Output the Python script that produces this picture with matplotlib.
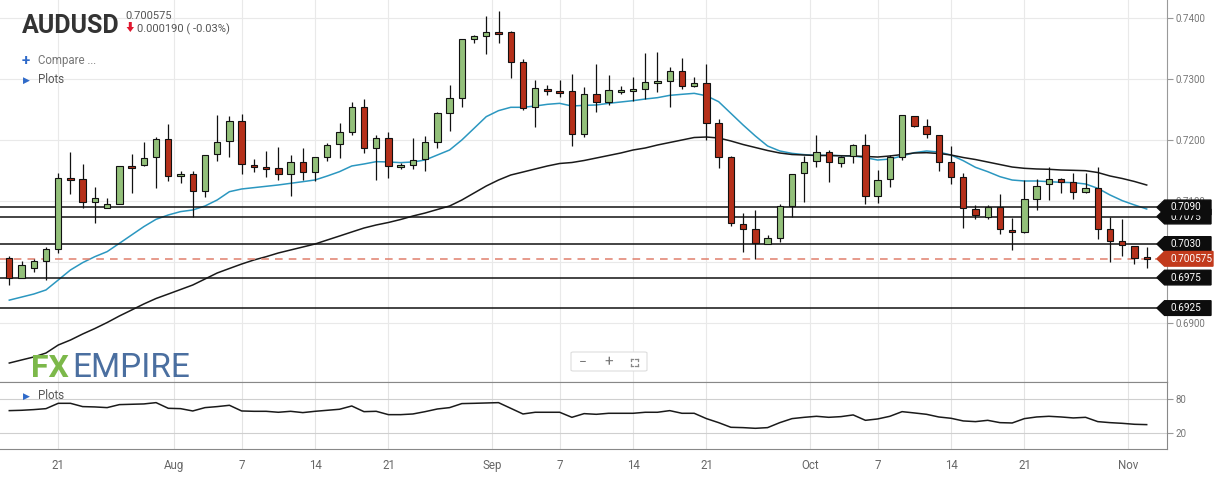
import numpy as np
import pandas as pd
import matplotlib
matplotlib.use("Agg")
import matplotlib.pyplot as plt
from matplotlib.patches import Polygon, FancyBboxPatch
from matplotlib.lines import Line2D
from matplotlib.transforms import blended_transform_factory

plt.rcParams['font.family'] = ['Roboto', 'DejaVu Sans']

# sessions on the chart: Sunday bars are included, Saturdays are not
days = pd.date_range("2020-07-16", "2020-11-02")
days = days[days.dayofweek != 5]

opens = [0.70066, 0.69749, 0.69902, 0.70027, 0.70213, 0.71382, 0.71361, 0.70984, 0.70891, 0.70962,
         0.71574, 0.71590, 0.71727, 0.72016, 0.71410, 0.71443, 0.71169, 0.71776, 0.71983, 0.72311,
         0.71590, 0.71557, 0.71541, 0.71448, 0.71639, 0.71475, 0.71721, 0.71934, 0.72142, 0.72541,
         0.71869, 0.72033, 0.71557, 0.71590, 0.71688, 0.71978, 0.72453, 0.72699, 0.73655, 0.73704,
         0.73770, 0.73770, 0.73278, 0.72541, 0.72836, 0.72808, 0.72808, 0.72098, 0.72754, 0.72623,
         0.72787, 0.72803, 0.72836, 0.72934, 0.72967, 0.73136, 0.72896, 0.72934, 0.72278, 0.71721,
         0.70623, 0.70541, 0.70300, 0.70393, 0.70929, 0.71459, 0.71661, 0.71803, 0.71622, 0.71743,
         0.71923, 0.71093, 0.71360, 0.71732, 0.72398, 0.72240, 0.72087, 0.71639, 0.71404, 0.70874,
         0.70748, 0.70912, 0.70524, 0.70491, 0.71038, 0.71278, 0.71360, 0.71311, 0.71158, 0.71213,
         0.70541, 0.70355, 0.70267, 0.70090]
highs = [0.70104, 0.70022, 0.70049, 0.70257, 0.71459, 0.71814, 0.71606, 0.71240, 0.71060, 0.71585,
         0.71776, 0.71967, 0.72049, 0.72262, 0.71497, 0.71497, 0.71760, 0.72415, 0.72399, 0.72432,
         0.71688, 0.71830, 0.71885, 0.71759, 0.71869, 0.71725, 0.71951, 0.72279, 0.72634, 0.72680,
         0.72087, 0.72142, 0.71623, 0.72032, 0.72071, 0.72470, 0.72907, 0.73660, 0.73726, 0.74038,
         0.74125, 0.73797, 0.73327, 0.72989, 0.72907, 0.72989, 0.73087, 0.72868, 0.73251, 0.73071,
         0.72890, 0.73032, 0.73437, 0.73442, 0.73207, 0.73344, 0.73032, 0.73251, 0.72344, 0.71743,
         0.70803, 0.70858, 0.70442, 0.70956, 0.71450, 0.71743, 0.72087, 0.71841, 0.71743, 0.71939,
         0.72098, 0.71513, 0.71759, 0.72420, 0.72405, 0.72344, 0.72090, 0.71907, 0.71469, 0.70940,
         0.70940, 0.71120, 0.70732, 0.71349, 0.71366, 0.71557, 0.71388, 0.71459, 0.71459, 0.71557,
         0.70748, 0.70705, 0.70270, 0.70246]
lows = [0.69628, 0.69738, 0.69847, 0.69710, 0.70148, 0.71115, 0.70896, 0.70639, 0.70885, 0.70955,
        0.71131, 0.71585, 0.71213, 0.71333, 0.71300, 0.70749, 0.71076, 0.71661, 0.71732, 0.71448,
        0.71486, 0.71404, 0.71350, 0.71087, 0.71350, 0.71333, 0.71661, 0.71705, 0.72087, 0.71798,
        0.71350, 0.71388, 0.71535, 0.71524, 0.71502, 0.71868, 0.72158, 0.72552, 0.73590, 0.73409,
        0.73601, 0.73016, 0.72497, 0.72224, 0.72743, 0.72715, 0.71912, 0.72060, 0.72470, 0.72579,
        0.72759, 0.72650, 0.72672, 0.72797, 0.72541, 0.72836, 0.72868, 0.72005, 0.71541, 0.70595,
        0.70164, 0.70054, 0.70295, 0.70328, 0.70748, 0.70994, 0.71557, 0.71311, 0.71568, 0.71622,
        0.70956, 0.70978, 0.71229, 0.71677, 0.72213, 0.72032, 0.71502, 0.71278, 0.70557, 0.70705,
        0.70705, 0.70464, 0.70202, 0.70485, 0.70858, 0.71021, 0.71142, 0.71032, 0.71142, 0.70377,
        0.70011, 0.70109, 0.69972, 0.69901]
closes = [0.69749, 0.69951, 0.70016, 0.70213, 0.71377, 0.71344, 0.70984, 0.71049, 0.70951, 0.71574,
          0.71541, 0.71705, 0.72016, 0.71421, 0.71443, 0.71169, 0.71754, 0.71967, 0.72311, 0.71606,
          0.71557, 0.71525, 0.71448, 0.71639, 0.71475, 0.71721, 0.71923, 0.72131, 0.72541, 0.71869,
          0.72033, 0.71585, 0.71595, 0.71683, 0.71967, 0.72442, 0.72688, 0.73655, 0.73704, 0.73770,
          0.73737, 0.73278, 0.72524, 0.72852, 0.72803, 0.72770, 0.72098, 0.72754, 0.72623, 0.72825,
          0.72825, 0.72841, 0.72950, 0.72972, 0.73136, 0.72896, 0.72934, 0.72289, 0.71721, 0.70639,
          0.70541, 0.70311, 0.70393, 0.70923, 0.71442, 0.71639, 0.71803, 0.71639, 0.71721, 0.71923,
          0.71093, 0.71349, 0.71732, 0.72415, 0.72240, 0.72098, 0.71639, 0.71404, 0.70885, 0.70770,
          0.70912, 0.70541, 0.70491, 0.71038, 0.71256, 0.71366, 0.71322, 0.71158, 0.71213, 0.70541,
          0.70355, 0.70284, 0.70065, 0.700575]

# short (blue) and long (black) moving averages as drawn
ma_fast = [0.69380, 0.69430, 0.69480, 0.69547, 0.69710, 0.69874, 0.69995, 0.70093, 0.70175, 0.70311,
           0.70448, 0.70585, 0.70705, 0.70776, 0.70831, 0.70858, 0.70923, 0.71022, 0.71158, 0.71202,
           0.71224, 0.71246, 0.71268, 0.71295, 0.71322, 0.71350, 0.71415, 0.71486, 0.71579, 0.71612,
           0.71650, 0.71645, 0.71634, 0.71645, 0.71677, 0.71759, 0.71841, 0.72005, 0.72196, 0.72388,
           0.72486, 0.72541, 0.72541, 0.72562, 0.72590, 0.72606, 0.72562, 0.72573, 0.72579, 0.72606,
           0.72628, 0.72650, 0.72677, 0.72699, 0.72737, 0.72754, 0.72770, 0.72730, 0.72633, 0.72442,
           0.72251, 0.72071, 0.71907, 0.71825, 0.71786, 0.71765, 0.71754, 0.71754, 0.71748, 0.71743,
           0.71715, 0.71677, 0.71693, 0.71743, 0.71797, 0.71825, 0.71808, 0.71759, 0.71666, 0.71557,
           0.71486, 0.71404, 0.71349, 0.71333, 0.71333, 0.71322, 0.71311, 0.71306, 0.71284, 0.71213,
           0.71104, 0.71011, 0.70940, 0.70874]
ma_slow = [0.68349, 0.68399, 0.68448, 0.68513, 0.68644, 0.68726, 0.68825, 0.68915, 0.69013, 0.69120,
           0.69218, 0.69317, 0.69407, 0.69480, 0.69554, 0.69628, 0.69726, 0.69825, 0.69899, 0.69972,
           0.70038, 0.70092, 0.70153, 0.70202, 0.70251, 0.70300, 0.70366, 0.70431, 0.70497, 0.70562,
           0.70612, 0.70653, 0.70702, 0.70759, 0.70808, 0.70866, 0.70923, 0.71021, 0.71136, 0.71251,
           0.71349, 0.71431, 0.71480, 0.71530, 0.71579, 0.71620, 0.71636, 0.71669, 0.71710, 0.71751,
           0.71792, 0.71841, 0.71874, 0.71923, 0.71964, 0.72005, 0.72046, 0.72054, 0.72038, 0.71989,
           0.71931, 0.71882, 0.71833, 0.71792, 0.71767, 0.71759, 0.71751, 0.71751, 0.71746, 0.71743,
           0.71735, 0.71726, 0.71743, 0.71767, 0.71792, 0.71797, 0.71784, 0.71759, 0.71718, 0.71685,
           0.71644, 0.71603, 0.71562, 0.71541, 0.71530, 0.71525, 0.71513, 0.71508, 0.71502, 0.71472,
           0.71415, 0.71374, 0.71325, 0.71267]

# lower "Plots" pane oscillator
osc = [60.0, 60.6, 61.8, 63.5, 72.9, 72.9, 67.1, 66.5, 65.3, 70.6,
       71.2, 71.8, 74.1, 64.1, 63.5, 59.4, 65.3, 67.1, 69.4, 59.4,
       58.8, 58.8, 57.1, 58.8, 56.5, 58.8, 60.6, 62.4, 68.2, 58.2,
       58.8, 52.9, 52.9, 54.1, 58.2, 62.9, 65.3, 72.4, 72.9, 73.5,
       74.1, 64.1, 54.1, 57.1, 57.1, 57.1, 48.2, 54.7, 53.5, 55.3,
       55.3, 55.3, 57.1, 57.1, 60.0, 55.3, 55.3, 45.9, 38.8, 30.6,
       30.0, 28.8, 30.0, 38.8, 45.9, 48.2, 50.0, 48.2, 49.4, 52.4,
       42.9, 45.3, 50.0, 58.2, 55.9, 53.5, 48.8, 46.5, 41.8, 40.6,
       42.9, 38.8, 38.2, 45.9, 48.8, 50.0, 48.8, 47.1, 48.2, 40.6,
       38.8, 37.6, 35.9, 35.3]

levels = [0.6925, 0.6975, 0.7030, 0.7075, 0.7090]
last_price = 0.700575

W, H = 1218, 479
fig = plt.figure(figsize=(W / 100, H / 100), dpi=100)
ax = fig.add_axes([0, 1 - 382 / H, 1167 / W, 382 / H])
ax2 = fig.add_axes([0, 1 - 449 / H, 1167 / W, 67 / H], sharex=ax)

x = np.arange(len(days))
o = np.array(opens)
c = np.array(closes)
up = c >= o
body_col = np.where(up, '#93c07a', '#b5301a')

# candles
ax.vlines(x, lows, highs, color='#111111', lw=0.9, zorder=3)
ax.bar(x, np.maximum(np.abs(c - o), 0.00005), bottom=np.minimum(o, c), width=0.52,
       color=body_col, edgecolor='#111111', linewidth=0.8, zorder=4)

ax.plot(x, ma_fast, color='#2b97c0', lw=1.1, zorder=2)
ax.plot(x, ma_slow, color='#1a1a1a', lw=1.1, zorder=2)

for lv in levels:
    ax.axhline(lv, color='#111111', lw=1.1, zorder=2)
ax.axhline(last_price, color='#e07f6c', lw=1.1, ls=(0, (5, 4)), zorder=2)

# x ticks: day numbers on bars, month names between months
tick_pos, tick_lab = [], []
for i, d in enumerate(days):
    if i > 0 and d.month != days[i - 1].month:
        tick_pos.append(i - 0.5)
        tick_lab.append(d.strftime('%b'))
    elif d.day in (7, 14, 21):
        tick_pos.append(i)
        tick_lab.append(str(d.day))


def price_fmt(v, p):
    # the 0.7000 label sits fully behind the last-price tag
    return "" if abs(v - 0.70) < 1e-6 else f"{v:.4f}"


ax.set_xlim(-0.76, 94.66)
ax.set_ylim(0.68038, 0.74300)
ax.set_xticks(tick_pos)
ax.set_yticks(np.arange(0.69, 0.7401, 0.01))
ax.yaxis.tick_right()
ax.yaxis.set_major_formatter(plt.FuncFormatter(price_fmt))
ax.tick_params(axis='y', colors='#999999', labelcolor='#777777', labelsize=7, length=4, pad=2)
ax.tick_params(axis='x', length=0, labelbottom=False)
ax.grid(True, color='#e9e9e9', lw=0.8)
ax.set_axisbelow(True)
for s in ['top', 'left']:
    ax.spines[s].set_visible(False)
ax.spines['right'].set_color('#999999')
ax.spines['bottom'].set_color('#888888')

# price tags on the right axis
tr = blended_transform_factory(ax.transAxes, ax.transData)


def tag(y, text, color, w=0.0463, z=6):
    h = 0.00120
    x0, tip = 0.9914, 0.0065
    pts = [(x0, y), (x0 + tip, y + h), (x0 + w, y + h), (x0 + w, y - h), (x0 + tip, y - h)]
    ax.add_patch(Polygon(pts, closed=True, transform=tr, fc=color, ec=color,
                         clip_on=False, zorder=z))
    ax.text(x0 + tip + 0.0055, y, text, transform=tr, color='white', fontsize=7.2,
            va='center', ha='left', clip_on=False, zorder=z + 1)


for k, lv in enumerate(levels):
    tag(lv, f"{lv:.4f}", '#0d0d0d', z=6 + 2 * k)
tag(last_price, f"{last_price:.6f}", '#c23a1c', w=0.0480, z=20)

# lower pane
ax2.plot(x, osc, color='#1a1a1a', lw=1.1)
ax2.set_ylim(-7.7, 110.5)
ax2.set_yticks([20, 80])
ax2.yaxis.tick_right()
ax2.tick_params(axis='y', colors='#999999', labelcolor='#777777', labelsize=7, length=4, pad=2)
ax2.tick_params(axis='x', length=0, labelsize=8.3, labelcolor='#666666', pad=7)
ax2.set_xticks(tick_pos)
ax2.set_xticklabels(tick_lab)
ax2.grid(True, axis='x', color='#e3e3e3', lw=0.8)
ax2.grid(True, axis='y', color='#cfcfcf', lw=0.8)
ax2.set_axisbelow(True)
ax2.spines['left'].set_visible(False)
for s in ['top', 'bottom', 'right']:
    ax2.spines[s].set_color('#888888')


def fx(px):
    return px / W


def fy(py):
    return 1 - py / H


# header
fig.text(fx(22), fy(33), "AUDUSD", fontsize=18, fontweight='bold', color='#333333')
fig.text(fx(125), fy(19), "0.700575", fontsize=8, color='#555555')
fig.text(fx(137), fy(32), "0.000190 ( -0.03%)", fontsize=8, color='#555555')
arrow = [(128.8, 22), (131.8, 22), (131.8, 27), (134, 27), (130.3, 32), (126.6, 27), (128.8, 27)]
fig.add_artist(Polygon([(fx(a), fy(b)) for a, b in arrow], closed=True,
                       transform=fig.transFigure, fc='#e0182f', ec='none'))
fig.text(fx(22), fy(65), "+", fontsize=11, fontweight='bold', color='#2f6ac9')
fig.text(fx(38), fy(64), "Compare ...", fontsize=8.3, color='#777777')
fig.text(fx(23), fy(83), "\u25B6", fontsize=6.5, color='#2f6ac9')
fig.text(fx(38), fy(83), "Plots", fontsize=8.3, color='#555555')
fig.text(fx(23), fy(399), "\u25B6", fontsize=6.5, color='#2f6ac9')
fig.text(fx(38), fy(399), "Plots", fontsize=8.3, color='#555555')

# watermark
fig.text(fx(31), fy(377), "FX", fontsize=23, color='#7cb84a', fontweight='bold')
fig.text(fx(72), fy(377), "EMPIRE", fontsize=24, color='#4b6fa0')

# zoom controls
fig.add_artist(FancyBboxPatch((fx(571), fy(371)), fx(76), 19 / H,
                              boxstyle="round,pad=0,rounding_size=0.002",
                              transform=fig.transFigure, fc='white', ec='#dddddd', lw=0.8))
fig.text(fx(583), fy(362), "\u2212", fontsize=10, color='#777777', ha='center', va='center')
fig.text(fx(609), fy(362), "+", fontsize=11, color='#777777', ha='center', va='center')
for sx, sy in [(-1, -1), (1, -1), (1, 1), (-1, 1)]:
    cx, cy = 634 + 3.5 * sx, 362 + 3.5 * sy
    fig.add_artist(Line2D([fx(cx), fx(cx - 2 * sx)], [fy(cy), fy(cy)],
                          transform=fig.transFigure, color='#888888', lw=0.9))
    fig.add_artist(Line2D([fx(cx), fx(cx)], [fy(cy), fy(cy - 2 * sy)],
                          transform=fig.transFigure, color='#888888', lw=0.9))

fig.savefig("out.png", dpi=100, facecolor='white')
